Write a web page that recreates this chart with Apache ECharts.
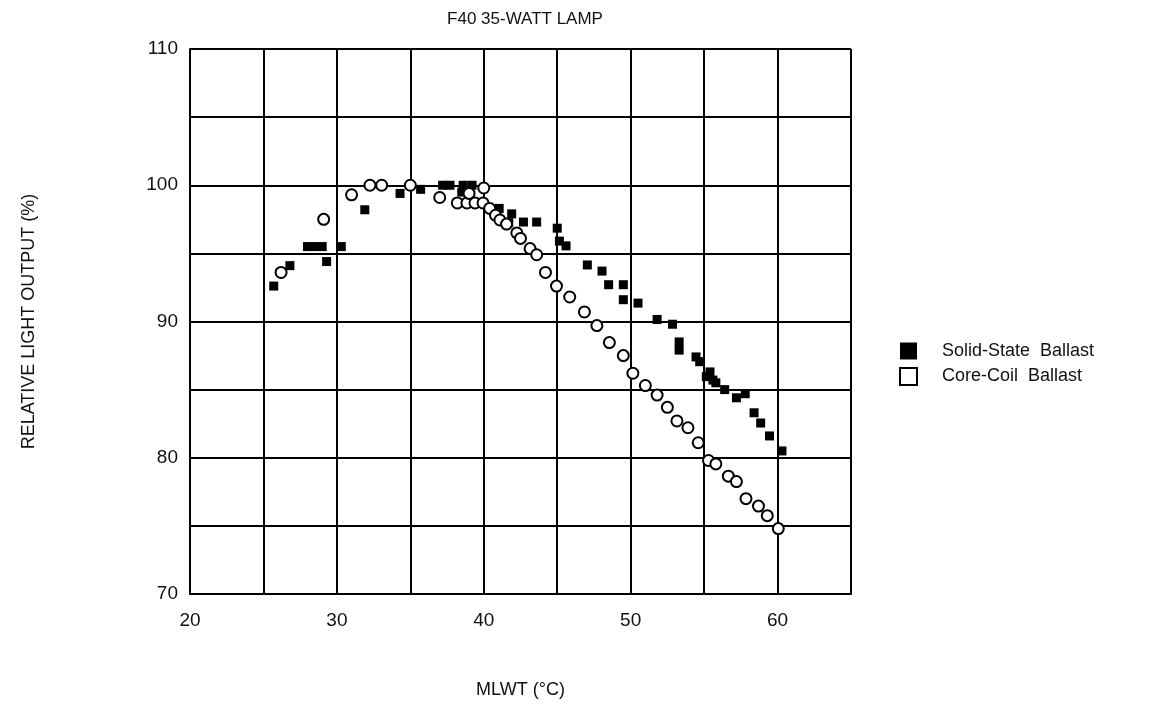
<!DOCTYPE html>
<html>
<head>
<meta charset="utf-8">
<script src="https://cdn.jsdelivr.net/npm/echarts@6/dist/echarts.min.js"></script>
<style>html,body{margin:0;padding:0;background:#fff}#c{width:1161px;height:705px}</style>
</head>
<body>
<div id="c"></div>
<script>
var titleText = 'F40 35-WATT LAMP';
var xName = 'MLWT (°C)';
var yName = 'RELATIVE LIGHT OUTPUT (%)';
var seriesNames = ['Solid-State  Ballast', 'Core-Coil  Ballast'];

var solidState = [
  [25.7,92.6],[26.8,94.1],[28.0,95.5],[28.5,95.5],[29.0,95.5],[29.3,94.4],[30.3,95.5],
  [31.9,98.2],[34.3,99.4],[35.7,99.7],[37.2,100],[37.7,100],[38.6,100],[39.2,100],[38.5,99.5],
  [41.05,98.3],[41.9,97.9],[41.7,97.25],[42.7,97.3],[43.6,97.3],[45.0,96.85],[45.15,95.9],[45.6,95.55],
  [47.05,94.15],[48.05,93.7],[48.5,92.7],[49.5,92.7],[49.5,91.6],[50.5,91.35],[51.8,90.15],[52.85,89.8],
  [53.3,88.5],[53.3,87.9],[54.45,87.4],[54.7,87.05],[55.15,85.95],[55.4,86.3],[55.6,85.7],[55.8,85.5],
  [56.4,85.0],[57.2,84.4],[57.8,84.7],[58.4,83.3],[58.85,82.55],[59.45,81.6],[60.3,80.5]
];
var coreCoil = [
  [26.2,93.6],[29.1,97.5],[31.0,99.3],[32.25,100],[33.05,100],[35.0,100],[37.0,99.1],
  [38.2,98.7],[38.85,98.7],[39.4,98.7],[39.95,98.7],[39.0,99.4],[40.0,99.8],
  [40.4,98.3],[40.8,97.8],[41.1,97.45],[41.55,97.15],[42.25,96.5],[42.5,96.1],[43.15,95.35],[43.6,94.9],
  [44.2,93.6],[44.95,92.6],[45.85,91.8],[46.85,90.7],[47.7,89.7],[48.55,88.45],[49.5,87.5],[50.15,86.2],
  [51.0,85.3],[51.8,84.6],[52.5,83.7],[53.15,82.7],[53.9,82.2],[54.6,81.1],[55.3,79.8],[55.8,79.55],
  [56.65,78.65],[57.2,78.25],[57.85,77.0],[58.7,76.45],[59.3,75.75],[60.05,74.8]
];

var font = 'Liberation Sans, Arial, sans-serif';
var chart = echarts.init(document.getElementById('c'));
chart.setOption({
  backgroundColor: '#fff',
  animation: false,
  title: {
    text: titleText, left: 520, top: 6, textAlign: 'center',
    textStyle: {fontFamily: font, fontSize: 17, fontWeight: 'normal', color: '#111'}
  },
  legend: {
    orient: 'vertical', left: 894, top: 337, itemGap: 7,
    itemWidth: 17, itemHeight: 17,
    textStyle: {fontFamily: font, fontSize: 18, color: '#111', padding: [0,0,0,20]},
    data: [
      {name: seriesNames[0], icon: 'rect', itemStyle: {color: '#000', borderWidth: 0}},
      {name: seriesNames[1], icon: 'rect', itemStyle: {color: '#fff', borderColor: '#000', borderWidth: 2}}
    ]
  },
  grid: {left: 190, top: 49, right: 310, bottom: 111},
  xAxis: {
    type: 'value', min: 20, max: 65, interval: 5,
    name: xName, nameLocation: 'middle', nameGap: 87,
    nameTextStyle: {fontFamily: font, fontSize: 18, color: '#111'},
    axisLine: {show: true, onZero: false, lineStyle: {color: '#000', width: 2}},
    axisTick: {show: false},
    splitLine: {show: true, lineStyle: {color: '#000', width: 2}},
    axisLabel: {
      fontFamily: font, fontSize: 19, color: '#111', margin: 17,
      formatter: function(v){ return (v % 10 === 0 && v < 65) ? String(v) : ''; }
    }
  },
  yAxis: {
    type: 'value', min: 70, max: 110, interval: 5,
    name: yName, nameLocation: 'middle', nameGap: 152, nameRotate: 90,
    nameTextStyle: {fontFamily: font, fontSize: 18, color: '#111'},
    axisLine: {show: true, onZero: false, lineStyle: {color: '#000', width: 2}},
    axisTick: {show: false},
    splitLine: {show: true, lineStyle: {color: '#000', width: 2}},
    axisLabel: {
      fontFamily: font, fontSize: 19, color: '#111', margin: 12,
      formatter: function(v){ return (v % 10 === 0) ? String(v) : ''; }
    }
  },
  series: [
    {
      name: seriesNames[0], type: 'scatter', data: solidState,
      symbol: 'rect', symbolSize: 9, z: 3,
      itemStyle: {color: '#000', opacity: 1}
    },
    {
      name: seriesNames[1], type: 'scatter', data: coreCoil,
      symbol: 'circle', symbolSize: 11, z: 4,
      itemStyle: {color: '#fff', borderColor: '#000', borderWidth: 2, opacity: 1}
    }
  ]
});
</script>
</body>
</html>
